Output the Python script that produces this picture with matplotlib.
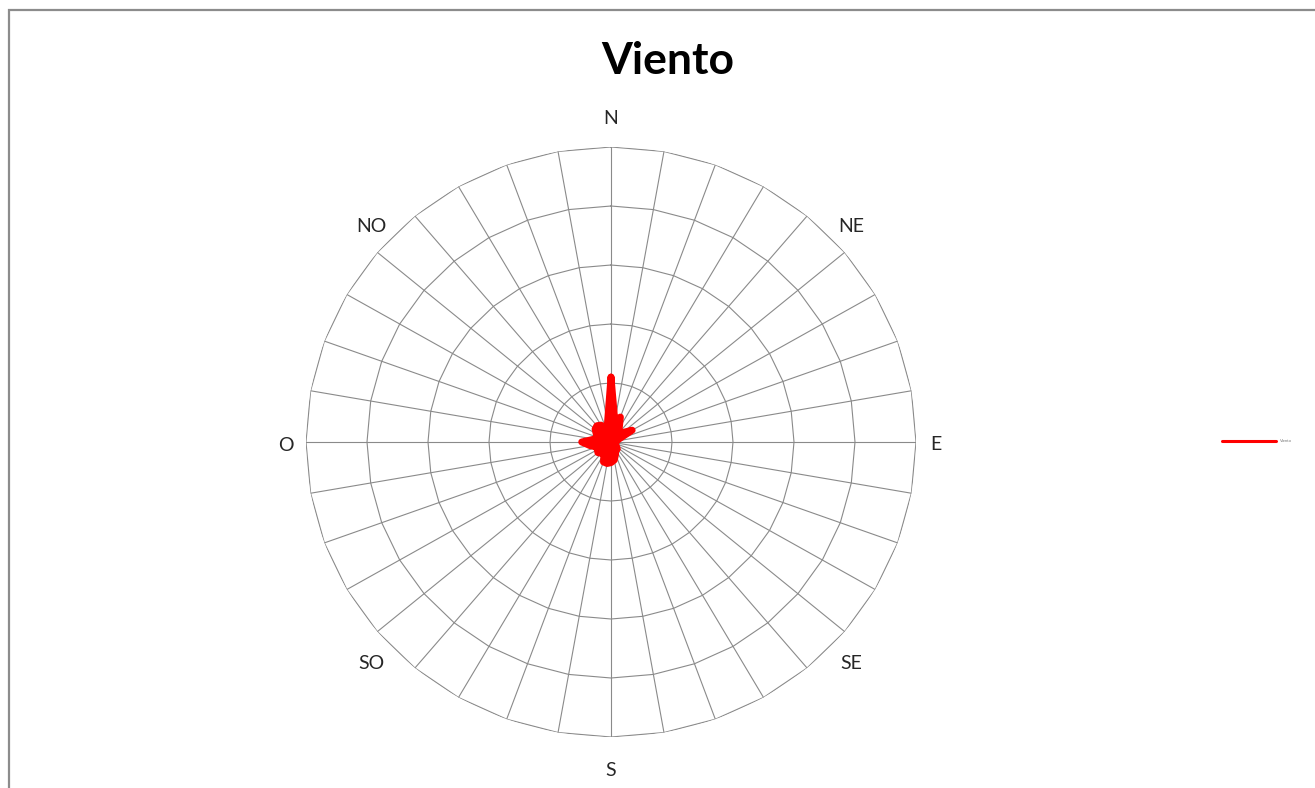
import numpy as np
import matplotlib
matplotlib.use("Agg")
import matplotlib.pyplot as plt
from matplotlib.patches import Rectangle

# ---- data ----
angles_deg = list(range(0, 360, 10))
viento = [1.10, 0.36, 0.45, 0.27, 0.22, 0.25, 0.40, 0.13, 0.10, 0.08,
          0.07, 0.07, 0.08, 0.12, 0.16, 0.14, 0.22, 0.31, 0.35, 0.37,
          0.36, 0.23, 0.25, 0.28, 0.26, 0.25, 0.35, 0.48, 0.28, 0.24,
          0.28, 0.34, 0.36, 0.33, 0.25, 0.33]
ring_levels = [1, 2, 3, 4, 5]
dir_labels = ["N", "NE", "E", "SE", "S", "SO", "O", "NO"]
dir_angles = [0, 45, 90, 135, 180, 225, 270, 315]
title = "Viento"
series_name = "Viento"

plt.rcParams['font.family'] = ['Lato', 'DejaVu Sans']

W, H = 1315, 788
fig = plt.figure(figsize=(W / 100, H / 100), dpi=100)
fig.patch.set_facecolor('white')

# outer frame
fig.add_artist(Rectangle((9 / W, -0.05), 1.2, (H - 10) / H + 0.05,
                         transform=fig.transFigure, fill=False,
                         edgecolor='#8c8c8c', linewidth=1.6))

cxp, cyp = 611, 442
cx, cy = cxp / W, (H - cyp) / H
w, h = 610 / W, 590 / H
ax = fig.add_axes([cx - w / 2, cy - h / 2, w, h], projection='polar')
ax.set_aspect('auto')
ax.set_theta_zero_location('N')
ax.set_theta_direction(-1)
ax.set_ylim(0, ring_levels[-1])
ax.grid(False)
ax.set_xticks([])
ax.set_yticks([])
ax.spines['polar'].set_visible(False)
ax.patch.set_alpha(0)

theta = np.deg2rad(angles_deg)
theta_closed = np.append(theta, theta[0])
grid_col = '#8a8a8a'
for lv in ring_levels:
    ax.plot(theta_closed, [lv] * len(theta_closed), color=grid_col, lw=0.8, zorder=1)
for t in theta:
    ax.plot([t, t], [0, ring_levels[-1]], color=grid_col, lw=0.8, zorder=1)

vals_closed = np.append(viento, viento[0])
ax.fill(theta_closed, vals_closed, color='#ff0000', zorder=2, lw=0)
ax.plot(theta_closed, vals_closed, color='#ff0000', lw=5, solid_joinstyle='round',
        solid_capstyle='round', zorder=3, label=series_name)

# direction labels (placed in pixel offsets around the centre)
for lab, a in zip(dir_labels, dir_angles):
    ar = np.deg2rad(a)
    s2 = abs(np.sin(2 * ar))
    dx = 325 * np.sin(ar) * (1 + 0.044 * s2)
    dy = 326 * np.cos(ar) * (1 - 0.05 * s2)
    fig.text((cxp + dx) / W, (H - cyp - 3 + dy) / H, lab, ha='center', va='center',
             fontsize=14, color='#262626')

fig.text(668 / W, 1 - 61 / H, title, ha='center', va='center',
         fontsize=32, fontweight='bold', color='black')

leg = ax.legend(loc='center left', bbox_to_anchor=(1222 / W, 1 - 441 / H),
                bbox_transform=fig.transFigure, frameon=False, fontsize=3,
                handlelength=13, handletextpad=0.8, borderpad=0, borderaxespad=0)
for txt in leg.get_texts():
    txt.set_color('#777777')
for ln in leg.get_lines():
    ln.set_linewidth(2.2)

fig.savefig('out.png', dpi=100, facecolor='white')
